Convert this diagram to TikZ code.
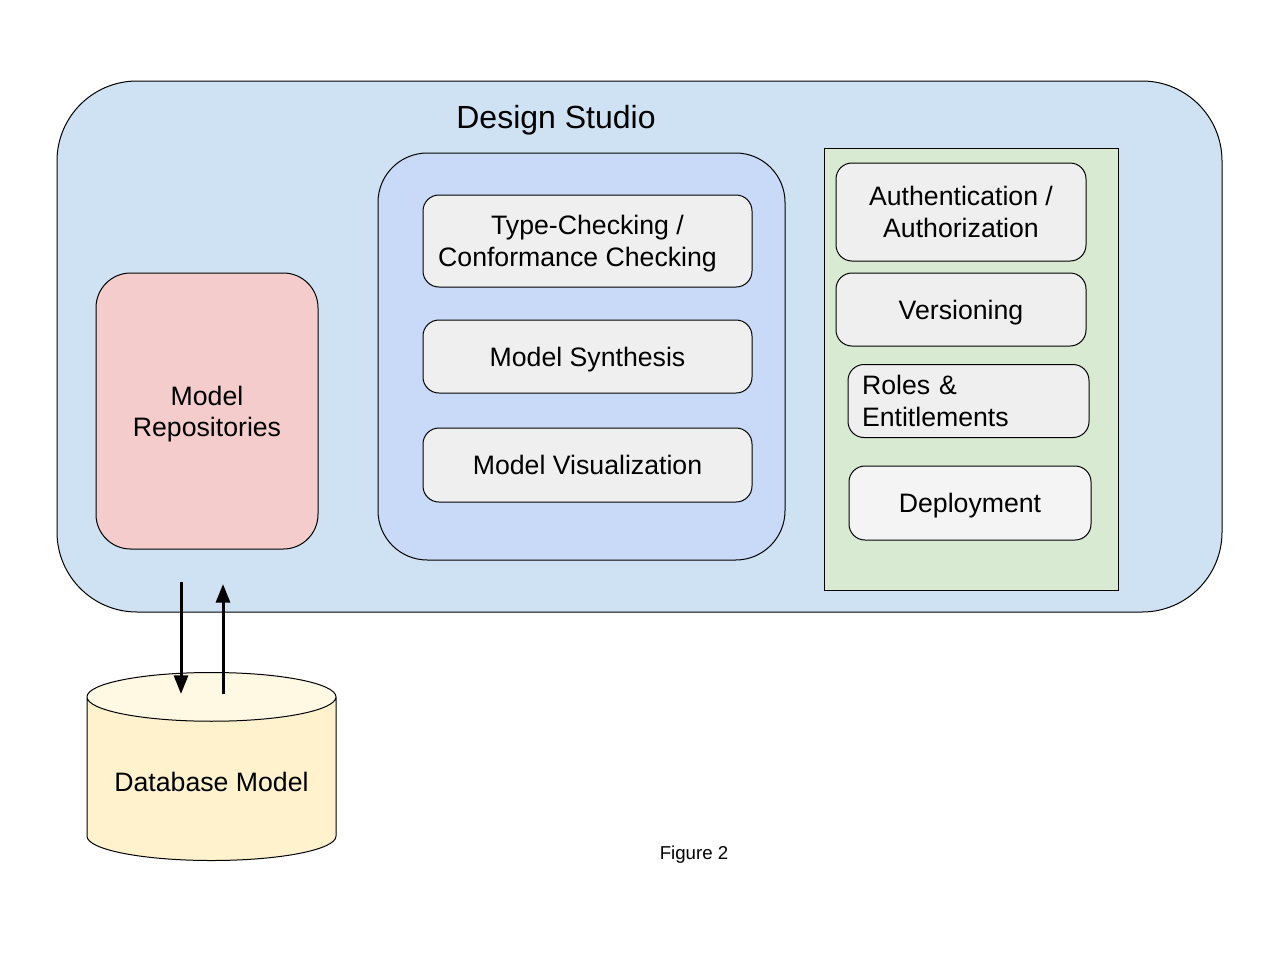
\documentclass[tikz,border=0pt]{standalone}
\usepackage{fontspec}
\setmainfont{Liberation Sans}
\usetikzlibrary{positioning, shapes.geometric, arrows.meta}
\definecolor{studio}{HTML}{CFE2F3}
\definecolor{repo}{HTML}{F4CCCC}
\definecolor{check}{HTML}{C9DAF8}
\definecolor{admin}{HTML}{D9EAD3}
\definecolor{tool}{HTML}{EFEFEF}
\definecolor{dbbody}{HTML}{FFF2CC}
\definecolor{dbtop}{HTML}{FFF8E3}
\tikzset{
x=0.75pt, y=-0.75pt, % one unit is one pixel of the drawing
every node/.style={font=\fontsize{20}{23.5}\selectfont, align=center, text depth=0pt, line width=0.75pt}, % sets the text for each node
tool/.style={draw, fill=tool, rounded corners=12pt, minimum width=246.75pt}, % the boxes inside the panels
flow/.style={-{Triangle[width=10.5pt, length=14pt]}, line width=2.25pt}, % the arrows to and from the database
}
\begin{document}
\begin{tikzpicture}
       \useasboundingbox[fill=white] (0,0) rectangle (1280,960);

       \node[draw, fill=studio, rounded corners=60pt, minimum width=873.75pt, minimum height=398.25pt] (studio) at (639.5,346.5) {};
       \node[font=\fontsize{24}{28}\selectfont] (title) at (556,117) {Design Studio};

       \node[draw, fill=repo, rounded corners=26pt, minimum width=166.5pt, minimum height=207pt] (repo) at (207,411) {Model\\Repositories};

       \node[draw, fill=check, rounded corners=37pt, minimum width=305.25pt, minimum height=305.25pt] (check) at (581.5,356.5) {};
       \node[tool, minimum height=69pt] (types) at (587.5,241) {Type-Checking /\\Conformance Checking\hspace*{15pt}};
       \node[tool, minimum height=54.75pt] (synth) at (587.5,356.5) {Model Synthesis};
       \node[tool, minimum height=55.5pt] (vis) at (587.5,465) {Model Visualization};

       \node[draw, fill=admin, minimum width=220.5pt, minimum height=331.5pt] (admin) at (971,369) {};
       \node[tool, minimum width=187.5pt, minimum height=73.5pt] (auth) at (961,212) {Authentication /\\Authorization};
       \node[tool, minimum width=187.5pt, minimum height=54.75pt] (vers) at (961,309.5) {Versioning};
       \node[tool, align=left, text depth=, text width=159.75pt, inner xsep=10.5pt, inner ysep=2pt, minimum width=180.75pt, minimum height=54.75pt] (roles) at (968.5,401) {Roles \&\\Entitlements};
       \node[tool, minimum width=181.5pt, minimum height=55.5pt, fill=tool!70] (deploy) at (970,503) {Deployment};

       \node[draw, cylinder, shape border rotate=90, aspect=0.24, cylinder uses custom fill, cylinder body fill=dbbody, cylinder end fill=dbtop,
             minimum width=186.75pt, minimum height=141pt, anchor=bottom] (db) at (211.5,861) {Database Model};

       \node[font=\fontsize{14}{16}\selectfont] (caption) at (694,853) {Figure 2};

       \coordinate (repoout) at (181,582);
       \coordinate (dbin) at (181,694);
       \coordinate (dbout) at (223,694);
       \coordinate (repoin) at (223,584);
       \draw[flow] (repoout) -- (dbin);
       \draw[flow] (dbout) -- (repoin);

  \end{tikzpicture}
\end{document}
